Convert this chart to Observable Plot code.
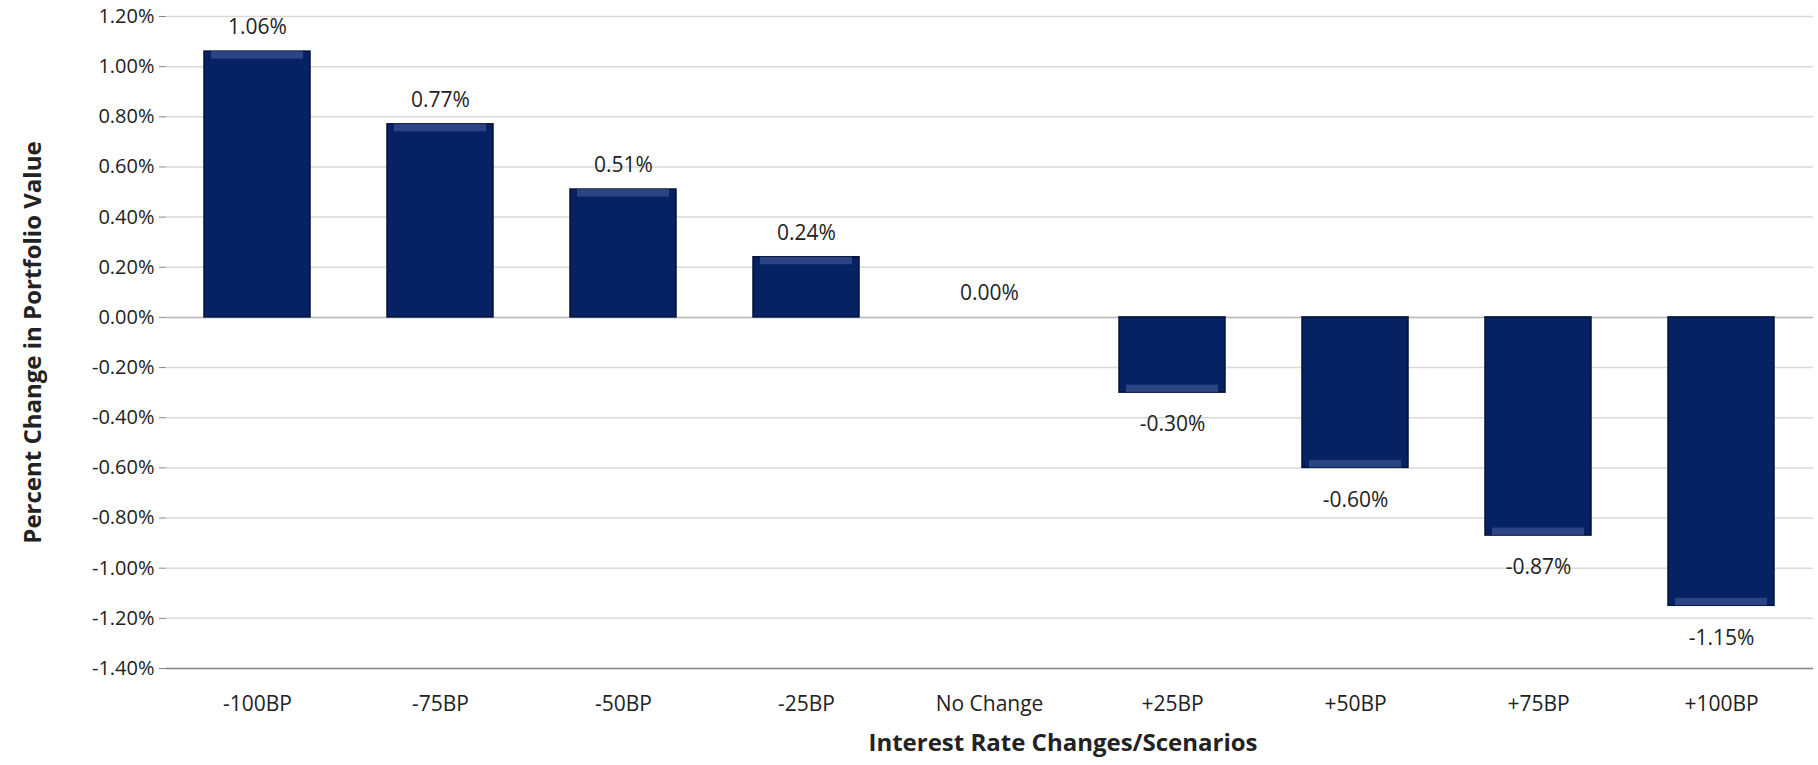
<!DOCTYPE html>
<html><head><meta charset="utf-8">
<script src="https://cdn.jsdelivr.net/npm/d3@7"></script>
<script src="https://cdn.jsdelivr.net/npm/@observablehq/plot@0.6"></script>
<style>body{margin:0;background:#fff}</style>
</head><body><div id="graph"></div>
<script>
const scenarios = ["-100BP", "-75BP", "-50BP", "-25BP", "No Change", "+25BP", "+50BP", "+75BP", "+100BP"];
const changes = [1.06, 0.77, 0.51, 0.24, 0.00, -0.30, -0.60, -0.87, -1.15];
const yTicks = [1.2, 1.0, 0.8, 0.6, 0.4, 0.2, 0, -0.2, -0.4, -0.6, -0.8, -1.0, -1.2, -1.4];

const data = scenarios.map((s, i) => ({scenario: s, value: changes[i]}));
const fmt = v => v.toFixed(2) + "%";

const chart = Plot.plot({
  width: 1818,
  height: 765,
  marginTop: 16,
  marginLeft: 166,
  marginRight: 5,
  marginBottom: 97,
  style: {fontFamily: "'Open Sans', sans-serif", fontSize: "20px", color: "#222"},
  x: {domain: scenarios, paddingInner: 0.42, paddingOuter: 0.21, label: null},
  y: {domain: [-1.4, 1.2], label: null},
  marks: [
    Plot.gridY(yTicks, {stroke: "#d9d9d9", strokeOpacity: 1, strokeWidth: 1.5}),
    Plot.axisY(yTicks, {tickFormat: fmt, tickSize: 7, stroke: "#888", fontSize: 20, tickPadding: 5}),
    Plot.ruleX([0], {frameAnchor: "left", stroke: "#888", strokeWidth: 1.5}),
    Plot.ruleY([-1.4], {stroke: "#888", strokeWidth: 1.5}),
    Plot.ruleY([0], {stroke: "#bbb", strokeWidth: 1.5}),
    Plot.axisX({tickSize: 0, tickPadding: 28, fontSize: 21}),
    Plot.barY(data, {x: "scenario", y: "value", fill: "#062263", stroke: "#021238", strokeWidth: 1.5}),
    Plot.barY(data.filter(d => d.value !== 0), {x: "scenario", y1: "value", y2: d => d.value - Math.sign(d.value) * 0.03, fill: "#4a63a0", fillOpacity: 0.55, insetLeft: 7, insetRight: 7}),
    Plot.text(data.filter(d => d.value >= 0), {x: "scenario", y: "value", text: d => fmt(d.value), dy: -24, fontSize: 21, fill: "#222"}),
    Plot.text(data.filter(d => d.value < 0), {x: "scenario", y: "value", text: d => fmt(d.value), dy: 32, fontSize: 21, fill: "#222"}),
    Plot.text(["Interest Rate Changes/Scenarios"], {frameAnchor: "bottom", dy: 82, dx: 73, fontWeight: "bold", fontSize: 24, fill: "#222"}),
    Plot.text(["Percent Change in Portfolio Value"], {frameAnchor: "left", textAnchor: "middle", dx: -133, rotate: -90, fontWeight: "bold", fontSize: 24, fill: "#222"})
  ]
});
d3.select("#graph").append(() => chart);
</script></body></html>
